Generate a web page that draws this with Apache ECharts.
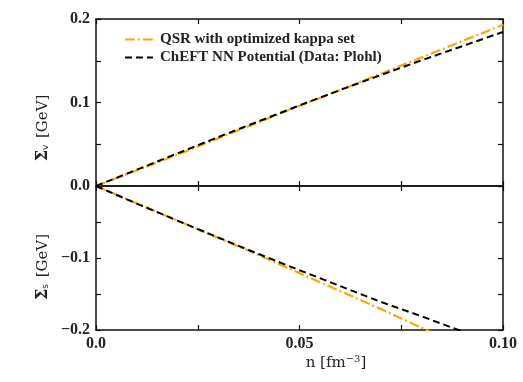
<!DOCTYPE html>
<html><head><meta charset="utf-8">
<script src="https://cdn.jsdelivr.net/npm/echarts@6/dist/echarts.min.js"></script>
<style>html,body{margin:0;padding:0;background:#fff}#c{width:523px;height:382px}</style>
</head><body><div id="c"></div>
<script>
// ---- data ----
const seriesNames = ['QSR with optimized kappa set', 'ChEFT NN Potential (Data: Plohl)'];
const density = [0, 0.01, 0.02, 0.03, 0.04, 0.05, 0.06, 0.07, 0.08, 0.09, 0.10];
const sigmaVQSR   = [0, 0.0185, 0.0375, 0.0570, 0.0765, 0.0960, 0.1150, 0.1345, 0.1540, 0.1735, 0.1930];
const sigmaVChEFT = [0, 0.0195, 0.0390, 0.0585, 0.0775, 0.0965, 0.1150, 0.1330, 0.1505, 0.1675, 0.1845];
const sigmaSQSR   = [0, -0.0240, -0.0480, -0.0720, -0.0960, -0.1210, -0.1460, -0.1710, -0.1970, -0.2230, -0.2490];
const sigmaSChEFT = [0, -0.0245, -0.0480, -0.0715, -0.0945, -0.1170, -0.1390, -0.1610, -0.1810, -0.2020, -0.2220];
const xTickLabels = {0: '0.0', 50: '0.05', 100: '0.10'};
const yTopTickLabels = {0: '0.0', 100: '0.1', 200: '0.2'};
const yBottomTickLabels = {'-100': '\u22120.1', '-200': '\u22120.2'};

const pairs = (xs, ys) => xs.map((x, i) => [x, ys[i]]);
const key = v => String(Math.round(v * 1000));

const tickFont = {fontFamily: 'Liberation Serif', fontWeight: 'bold', fontSize: 16, color: '#222'};
const axisLine = {show: true, onZero: false, lineStyle: {color: '#111', width: 1.5}};
const axisTick = {show: true, inside: true, length: 5, lineStyle: {color: '#111', width: 1.2}};

function xAx(grid, pos, labels) {
  return {type: 'value', gridIndex: grid, position: pos, min: 0, max: 0.1, interval: 0.025,
    axisLine, axisTick, splitLine: {show: false},
    axisLabel: labels ? Object.assign({show: true, margin: 6, formatter: v => xTickLabels[key(v)] || ''}, tickFont) : {show: false}};
}
function yAx(grid, pos, min, max, labels) {
  return {type: 'value', gridIndex: grid, position: pos, min, max, interval: 0.05,
    axisLine, axisTick, splitLine: {show: false},
    axisLabel: labels ? Object.assign({show: true, margin: 6, formatter: v => labels[key(v)] || ''}, tickFont) : {show: false}};
}

const orangeStyle = {color: '#FFA500', width: 2.2, type: [10, 3, 2, 3]};
const blackStyle = {color: '#000', width: 2, type: [7, 4]};

function line(name, data, xi, yi, style, z) {
  return {type: 'line', name, data, xAxisIndex: xi, yAxisIndex: yi, showSymbol: false, symbol: 'none',
    clip: true, z, lineStyle: style, itemStyle: {color: style.color}, animation: false};
}

const titleRich = {
  b: {fontFamily: 'DejaVu Serif', fontWeight: 'bold', fontSize: 16, fill: '#222'},
  sub: {fontFamily: 'DejaVu Sans', fontSize: 9, fill: '#222', padding: [6, 0, 0, 0]},
  r: {fontFamily: 'DejaVu Serif', fontSize: 15, fill: '#222'}
};

const chart = echarts.init(document.getElementById('c'), null, {renderer: 'canvas'});
chart.setOption({
  animation: false,
  backgroundColor: '#fff',
  grid: [
    {left: 96, top: 19, width: 407, height: 167},
    {left: 96, top: 186, width: 407, height: 144}
  ],
  xAxis: [xAx(0, 'bottom', false), xAx(0, 'top', false), xAx(1, 'bottom', true), xAx(1, 'top', false)],
  yAxis: [
    yAx(0, 'left', 0, 0.2, yTopTickLabels), yAx(0, 'right', 0, 0.2, null),
    yAx(1, 'left', -0.2, 0, yBottomTickLabels), yAx(1, 'right', -0.2, 0, null)
  ],
  legend: {
    data: seriesNames, orient: 'vertical', left: 119, top: 27, itemWidth: 28, itemHeight: 10, itemGap: 3,
    itemStyle: {opacity: 0},
    textStyle: {fontFamily: 'Liberation Serif', fontWeight: 'bold', fontSize: 15, color: '#222', padding: [0, 0, 0, 2]},
    selectedMode: false
  },
  series: [
    line(seriesNames[0], pairs(density, sigmaVQSR), 0, 0, orangeStyle, 2),
    line(seriesNames[1], pairs(density, sigmaVChEFT), 0, 0, blackStyle, 3),
    line(seriesNames[0], pairs(density, sigmaSQSR), 2, 2, orangeStyle, 2),
    line(seriesNames[1], pairs(density, sigmaSChEFT), 2, 2, blackStyle, 3)
  ],
  graphic: [
    {type: 'text', x: 43, y: 128, rotation: Math.PI / 2,
      style: {text: '{b|\u03A3}{sub|v}  {r|[GeV]}', align: 'center', verticalAlign: 'middle', rich: titleRich}},
    {type: 'text', x: 43, y: 267, rotation: Math.PI / 2,
      style: {text: '{b|\u03A3}{sub|s}  {r|[GeV]}', align: 'center', verticalAlign: 'middle', rich: titleRich}},
    {type: 'text', x: 336, y: 363,
      style: {text: '{r|n [fm}{sup|\u22123}{r|]}', align: 'center', verticalAlign: 'middle',
        rich: {r: {fontFamily: 'DejaVu Serif', fontSize: 15, fill: '#222'},
               sup: {fontFamily: 'DejaVu Serif', fontSize: 10, fill: '#222', padding: [0, 0, 8, 0]}}}}
  ]
});
</script></body></html>
